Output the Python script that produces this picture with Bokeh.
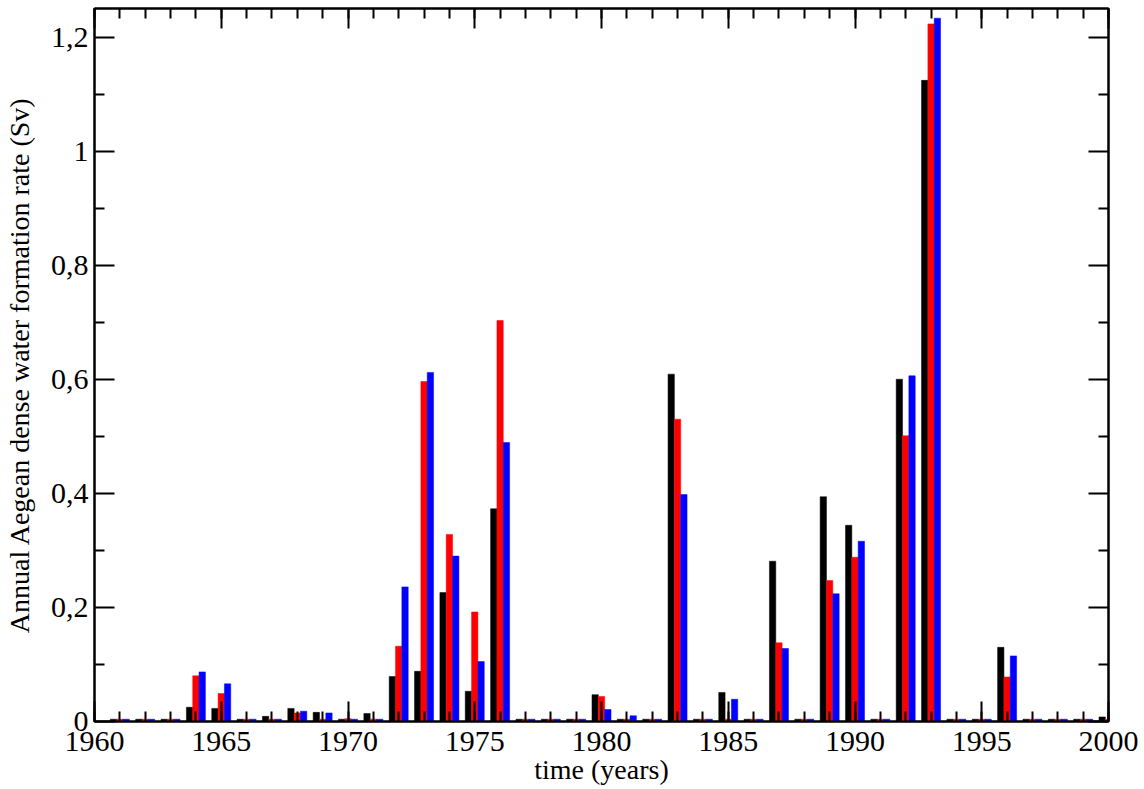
from bokeh.plotting import figure
from bokeh.models import ColumnDataSource, Range1d, FixedTicker, LinearAxis, CustomJSTickFormatter
from bokeh.transform import dodge
from bokeh.embed import file_html
from bokeh.resources import INLINE

t = 0.004  # near-zero marks
years = list(range(1961, 2001))
black = [t, t, t, 0.025, 0.023, t, 0.009, 0.023, 0.016, t,
         0.014, 0.079, 0.088, 0.226, 0.053, 0.373, t, t, t, 0.047,
         t, t, 0.609, t, 0.051, t, 0.281, t, 0.394, 0.344,
         t, 0.600, 1.124, t, t, 0.130, t, t, t, 0.008]
red = [t, t, t, 0.080, 0.049, t, t, 0.015, t, 0.005,
       t, 0.132, 0.596, 0.328, 0.192, 0.703, t, t, t, 0.044,
       t, t, 0.530, t, t, t, 0.138, t, 0.247, 0.288,
       t, 0.501, 1.223, t, t, 0.078, t, t, t, t]
blue = [t, t, t, 0.087, 0.066, t, t, 0.018, 0.015, t,
        t, 0.236, 0.612, 0.290, 0.105, 0.489, t, t, t, 0.021,
        0.010, t, 0.398, t, 0.039, t, 0.128, t, 0.224, 0.316,
        t, 0.606, 1.233, t, t, 0.115, t, t, t, t]

x_major = list(range(1960, 2001, 5))
x_minor = list(range(1960, 2001))
y_major = [0, 0.2, 0.4, 0.6, 0.8, 1.0, 1.2]
y_minor = [0.1, 0.3, 0.5, 0.7, 0.9, 1.1]

src = ColumnDataSource(dict(year=years, black=black, red=red, blue=blue))

p = figure(width=1144, height=789, output_backend="svg", toolbar_location=None,
           x_range=Range1d(1960, 2000), y_range=Range1d(0, 1.25),
           min_border_left=92, min_border_right=36, min_border_top=8, min_border_bottom=68)
p.grid.visible = False
p.outline_line_color = "black"
p.outline_line_width = 2
p.background_fill_color = "white"
p.border_fill_color = "white"

w = 0.25
p.vbar(x=dodge('year', -0.25, range=p.x_range), top='black', width=w, source=src,
       fill_color="black", line_color="black", line_width=0.5)
p.vbar(x=dodge('year', 0.0, range=p.x_range), top='red', width=w, source=src,
       fill_color="red", line_color="red", line_width=0.5)
p.vbar(x=dodge('year', 0.25, range=p.x_range), top='blue', width=w, source=src,
       fill_color="blue", line_color="blue", line_width=0.5)

fmt = CustomJSTickFormatter(code="var s = tick.toFixed(1).replace('.', ','); if (s.endsWith(',0')) { s = s.slice(0, -2); } return s;")
xfmt = CustomJSTickFormatter(code="return tick.toFixed(0);")

def style(ax, labels=True):
    ax.axis_line_width = 2
    ax.axis_line_color = "black"
    ax.major_tick_in = 20
    ax.major_tick_out = 0
    ax.minor_tick_in = 10
    ax.minor_tick_out = 0
    ax.major_tick_line_width = 2
    ax.minor_tick_line_width = 2
    ax.major_tick_line_color = "black"
    ax.minor_tick_line_color = "black"
    if labels:
        ax.major_label_text_font = "Liberation Serif"
        ax.major_label_text_font_size = "30px"
        ax.major_label_text_color = "black"
        ax.axis_label_text_font = "Liberation Serif"
        ax.axis_label_text_font_size = "28px"
        ax.axis_label_text_font_style = "normal"
        ax.axis_label_text_color = "black"
    else:
        ax.major_label_text_font_size = "1px"
        ax.major_label_text_color = None
        ax.major_label_standoff = 0

xa = p.xaxis[0]
xa.ticker = FixedTicker(ticks=x_major, minor_ticks=x_minor)
xa.formatter = xfmt
xa.axis_label = "time (years)"
style(xa)
xa.major_label_standoff = 10
xa.axis_label_standoff = 0

ya = p.yaxis[0]
ya.ticker = FixedTicker(ticks=y_major, minor_ticks=y_minor)
ya.formatter = fmt
ya.axis_label = "Annual Aegean dense water formation rate (Sv)"
style(ya)
ya.major_label_standoff = 6
ya.axis_label_standoff = 13
ya.major_label_orientation = "horizontal"

top = LinearAxis(ticker=FixedTicker(ticks=x_major, minor_ticks=x_minor))
style(top, labels=False)
p.add_layout(top, "above")
right = LinearAxis(ticker=FixedTicker(ticks=y_major, minor_ticks=y_minor))
style(right, labels=False)
p.add_layout(right, "right")

open("out.html", "w").write(file_html(p, INLINE))
